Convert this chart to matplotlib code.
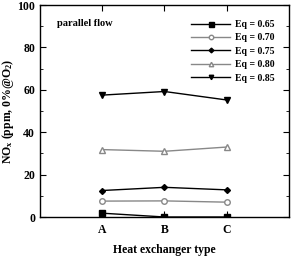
import matplotlib
matplotlib.use('Agg')
import matplotlib.pyplot as plt
from matplotlib.ticker import MultipleLocator

plt.rcParams['font.family'] = 'Liberation Serif'
plt.rcParams['font.weight'] = 'bold'
plt.rcParams['mathtext.fontset'] = 'custom'
plt.rcParams['mathtext.rm'] = 'Liberation Serif:bold'
plt.rcParams['mathtext.it'] = 'Liberation Serif:bold'
plt.rcParams['mathtext.bf'] = 'Liberation Serif:bold'
plt.rcParams['mathtext.default'] = 'bf'

types = ['A', 'B', 'C']
eq_labels = ['Eq = 0.65', 'Eq = 0.70', 'Eq = 0.75', 'Eq = 0.80', 'Eq = 0.85']
eq065 = [1.8, 0.0, 0.0]
eq070 = [7.5, 7.6, 7.0]
eq075 = [12.5, 14.0, 12.8]
eq080 = [31.8, 31.0, 33.0]
eq085 = [57.5, 59.2, 55.2]

fig = plt.figure(figsize=(2.96, 2.58), dpi=100)
ax = fig.add_axes([0.1351, 0.1589, 0.8412, 0.8217])

x = [1, 2, 3]
styles = [
    (eq065, 's', 'black', 'black', 4.5),
    (eq070, 'o', 'white', '#888888', 4),
    (eq075, 'D', 'black', 'black', 3),
    (eq080, '^', 'white', '#888888', 4),
    (eq085, 'v', 'black', 'black', 4),
]
for (vals, mk, fc, col, ms), lab in zip(styles, eq_labels):
    ax.plot(x, vals, marker=mk, color=col, mfc=fc, mec=col, ms=ms,
            lw=1.0, label=lab)

ax.set_xlim(0, 4)
ax.set_ylim(0, 100)
ax.set_xticks(x)
ax.set_xticklabels(types)
ax.yaxis.set_major_locator(MultipleLocator(20))
ax.yaxis.set_minor_locator(MultipleLocator(10))
ax.tick_params(which='both', direction='in', top=True, right=True, labelsize=8.5)
ax.tick_params(axis='x', pad=5)
ax.tick_params(which='major', length=4)
ax.tick_params(which='minor', length=2)
for s in ax.spines.values():
    s.set_linewidth(1.0)

ax.set_xlabel('Heat exchanger type', fontsize=8.5, fontweight='bold', labelpad=6)
ax.set_ylabel('NO$_x$ (ppm, 0%@O$_2$)', fontsize=8.5, fontweight='bold')
ax.yaxis.set_label_coords(-0.098, 0.5)
ax.text(0.068, 0.915, 'parallel flow', transform=ax.transAxes, fontsize=7.5,
        fontweight='bold', va='center')
ax.legend(loc='upper right', frameon=False, fontsize=7, handlelength=4.0,
          labelspacing=0.45, handletextpad=0.5, markerscale=0.8,
          bbox_to_anchor=(0.978, 0.97))

fig.savefig('out.png', dpi=100)
